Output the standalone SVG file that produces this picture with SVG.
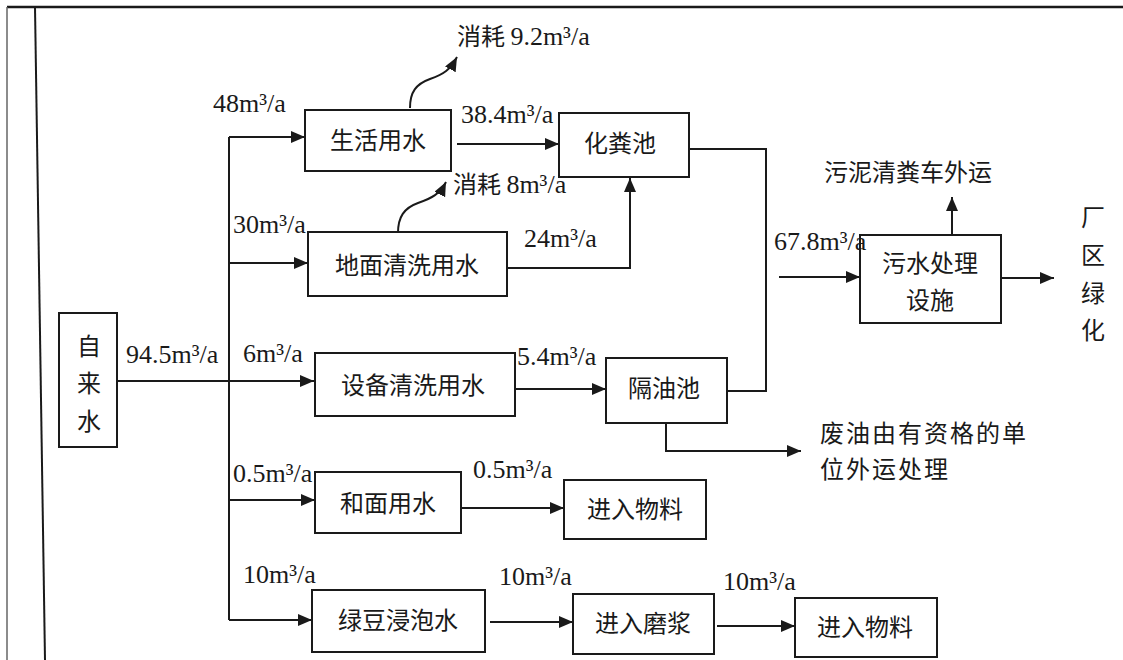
<svg xmlns="http://www.w3.org/2000/svg" width="1123" height="660" viewBox="0 0 1123 660">
<style>
.box{fill:#fff;stroke:#1a1a1a;stroke-width:2}
.cn{font-family:"Noto Sans CJK SC","Noto Sans",sans-serif;font-size:24px;fill:#1a1a1a}
.num{font-family:"Liberation Serif","Times New Roman",serif;font-size:26px;fill:#1a1a1a}
.mid{text-anchor:middle}
.ln{fill:none;stroke:#1a1a1a;stroke-width:2}
</style>
<defs>
<marker id="ah" markerUnits="userSpaceOnUse" markerWidth="15" markerHeight="13" refX="14" refY="6" orient="auto">
<path d="M0,0 L14,6 L0,12 z" fill="#1a1a1a"/>
</marker>
</defs>
<rect width="1123" height="660" fill="#fff"/>
<g id="frame">
<line x1="7" y1="7" x2="1123" y2="7" stroke="#1a1a1a" stroke-width="2.5"/>
<line x1="7" y1="7" x2="7" y2="660" stroke="#666" stroke-width="1.5"/>
<line x1="35" y1="7" x2="45" y2="660" stroke="#1a1a1a" stroke-width="2"/>
</g>
<g id="connectors">
<path class="ln" d="M117,381 H314" marker-end="url(#ah)"/>
<path class="ln" d="M229,137 V620"/>
<path class="ln" d="M229,137 H305" marker-end="url(#ah)"/>
<path class="ln" d="M229,263 H308" marker-end="url(#ah)"/>
<path class="ln" d="M229,500 H315" marker-end="url(#ah)"/>
<path class="ln" d="M229,620 H312" marker-end="url(#ah)"/>
<path class="ln" d="M457,144 H559" marker-end="url(#ah)"/>
<path class="ln" d="M507,268 H630 V178" marker-end="url(#ah)"/>
<path class="ln" d="M689,149 H766 V391 H727"/>
<path class="ln" d="M515,389 H606" marker-end="url(#ah)"/>
<path class="ln" d="M666,423 V451 H801" marker-end="url(#ah)"/>
<path class="ln" d="M779,277 H860" marker-end="url(#ah)"/>
<path class="ln" d="M1001,278 H1054" marker-end="url(#ah)"/>
<path class="ln" d="M952,235 V197" marker-end="url(#ah)"/>
<path class="ln" d="M461,508 H564" marker-end="url(#ah)"/>
<path class="ln" d="M490,622 H573" marker-end="url(#ah)"/>
<path class="ln" d="M717,626 H795" marker-end="url(#ah)"/>
<path class="ln" d="M410,108 C410,92 416,84 430,79 C444,74 450,70 457,57" marker-end="url(#ah)"/>
<path class="ln" d="M398,233 C398,217 404,208 418,203 C432,198 440,194 446,182" marker-end="url(#ah)"/>
</g>
<g id="zilaishui">
<rect class="box" x="59" y="313" width="58" height="134"/>
<text class="cn mid" x="89" y="355">自</text>
<text class="cn mid" x="89" y="392">来</text>
<text class="cn mid" x="89" y="430">水</text>
</g>
<g id="shenghuo">
<rect class="box" x="305" y="110" width="146" height="61"/>
<text class="cn mid" x="378" y="149">生活用水</text>
</g>
<g id="huafenchi">
<rect class="box" x="559" y="113" width="130" height="64"/>
<text class="cn mid" x="620" y="152">化粪池</text>
</g>
<g id="dimian">
<rect class="box" x="308" y="232" width="199" height="64"/>
<text class="cn mid" x="407" y="274">地面清洗用水</text>
</g>
<g id="shebei">
<rect class="box" x="315" y="353" width="200" height="63"/>
<text class="cn mid" x="413" y="394">设备清洗用水</text>
</g>
<g id="geyouchi">
<rect class="box" x="606" y="358" width="121" height="65"/>
<text class="cn mid" x="664" y="397">隔油池</text>
</g>
<g id="wushui">
<rect class="box" x="860" y="235" width="141" height="88"/>
<text class="cn mid" x="930" y="272">污水处理</text>
<text class="cn mid" x="930" y="309">设施</text>
</g>
<g id="hemian">
<rect class="box" x="315" y="472" width="146" height="61"/>
<text class="cn mid" x="388" y="512">和面用水</text>
</g>
<g id="wuliao1">
<rect class="box" x="564" y="480" width="142" height="59"/>
<text class="cn mid" x="635" y="518">进入物料</text>
</g>
<g id="ludou">
<rect class="box" x="312" y="590" width="173" height="62"/>
<text class="cn mid" x="398" y="629">绿豆浸泡水</text>
</g>
<g id="mojiang">
<rect class="box" x="573" y="594" width="141" height="60"/>
<text class="cn mid" x="643" y="632">进入磨浆</text>
</g>
<g id="wuliao2">
<rect class="box" x="795" y="598" width="142" height="59"/>
<text class="cn mid" x="865" y="636">进入物料</text>
</g>
<g id="labels">
<text class="num" x="213" y="112">48m³/a</text>
<text x="457" y="45"><tspan class="cn">消耗 </tspan><tspan class="num">9.2m³/a</tspan></text>
<text class="num" x="461" y="123">38.4m³/a</text>
<text x="453" y="193"><tspan class="cn">消耗 </tspan><tspan class="num">8m³/a</tspan></text>
<text class="num" x="233" y="233">30m³/a</text>
<text class="num" x="524" y="247">24m³/a</text>
<text class="num" x="774" y="250">67.8m³/a</text>
<text class="cn" x="824" y="181">污泥清粪车外运</text>
<text class="cn mid" x="1093" y="226">厂</text>
<text class="cn mid" x="1093" y="264">区</text>
<text class="cn mid" x="1093" y="302">绿</text>
<text class="cn mid" x="1093" y="339">化</text>
<text class="num" x="126" y="363">94.5m³/a</text>
<text class="num" x="243" y="362">6m³/a</text>
<text class="num" x="517" y="365">5.4m³/a</text>
<text class="cn" x="820" y="442" letter-spacing="2">废油由有资格的单</text>
<text class="cn" x="820" y="478" letter-spacing="2">位外运处理</text>
<text class="num" x="233" y="482">0.5m³/a</text>
<text class="num" x="473" y="478">0.5m³/a</text>
<text class="num" x="243" y="583">10m³/a</text>
<text class="num" x="499" y="585">10m³/a</text>
<text class="num" x="723" y="590">10m³/a</text>
</g>
</svg>
